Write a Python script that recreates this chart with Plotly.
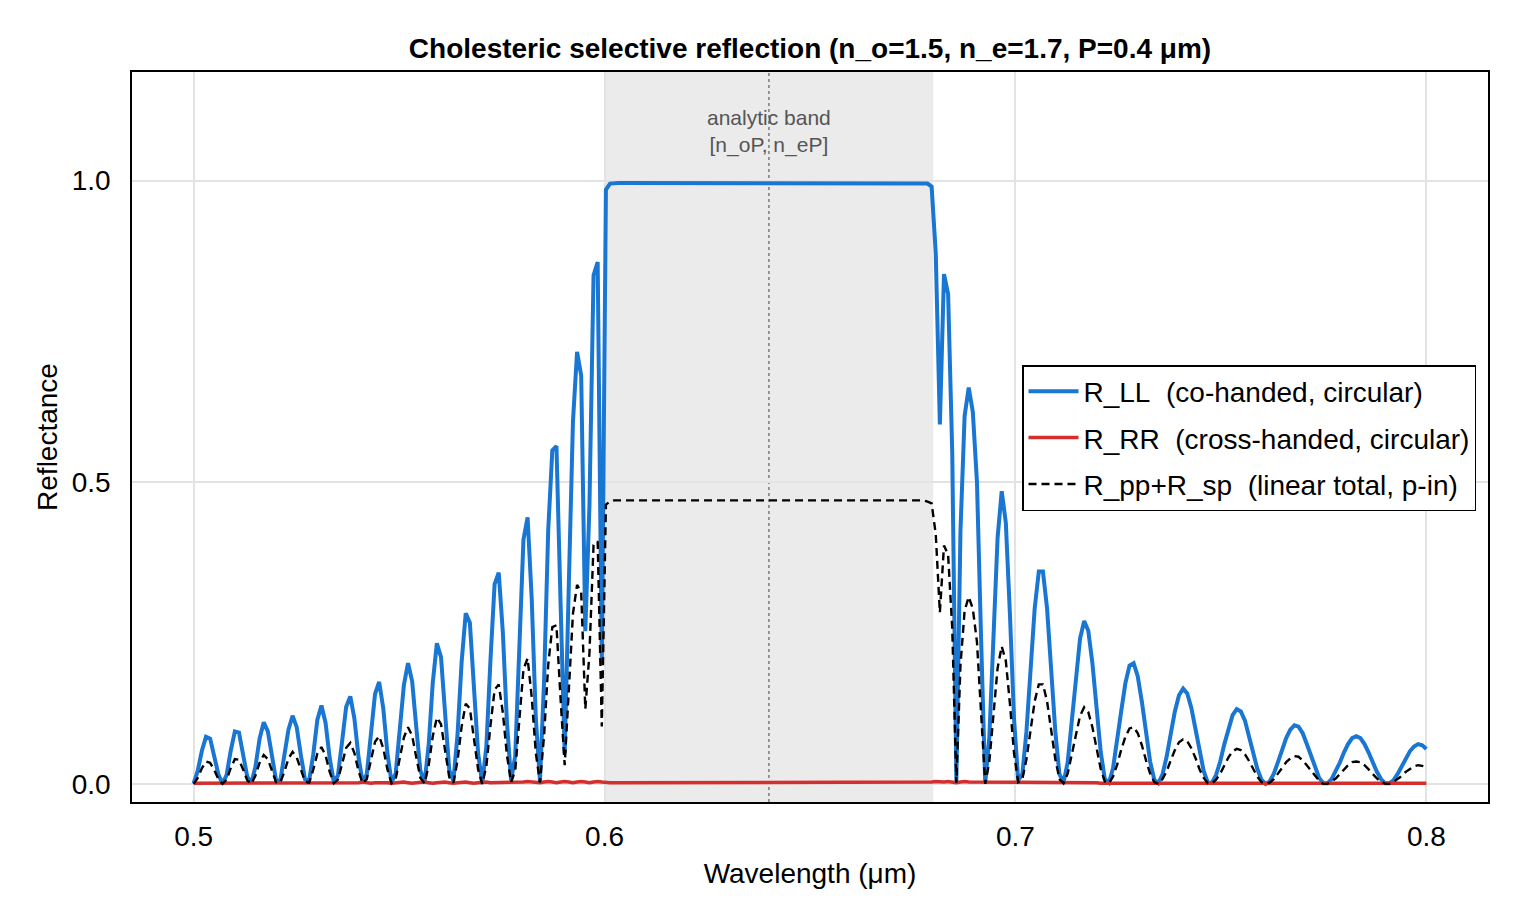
import numpy as np
import plotly.graph_objects as go

# ---------------- data ----------------
WL_START, WL_END, N_SAMPLES = 0.5, 0.8, 300
wavelength_um = np.linspace(WL_START, WL_END, N_SAMPLES)

R_LL = [
    0.001, 0.022, 0.055, 0.078, 0.075, 0.048, 0.016, 0.000, 0.015, 0.055,
    0.087, 0.085, 0.051, 0.012, 0.001, 0.029, 0.075, 0.102, 0.087, 0.043,
    0.006, 0.005, 0.043, 0.090, 0.113, 0.094, 0.048, 0.008, 0.005, 0.048,
    0.106, 0.130, 0.101, 0.043, 0.003, 0.014, 0.070, 0.128, 0.145, 0.108,
    0.044, 0.003, 0.016, 0.081, 0.149, 0.169, 0.125, 0.051, 0.003, 0.017,
    0.085, 0.164, 0.200, 0.170, 0.094, 0.022, 0.002, 0.064, 0.168, 0.233,
    0.210, 0.115, 0.023, 0.005, 0.081, 0.202, 0.283, 0.267, 0.166, 0.051,
    0.000, 0.062, 0.206, 0.331, 0.350, 0.251, 0.101, 0.006, 0.046, 0.225,
    0.405, 0.442, 0.307, 0.108, 0.005, 0.170, 0.420, 0.553, 0.560, 0.300,
    0.051, 0.330, 0.600, 0.716, 0.677, 0.253, 0.460, 0.843, 0.865, 0.200,
    0.985, 0.995, 0.996, 0.996, 0.996, 0.996, 0.996, 0.996, 0.996, 0.996,
    0.996, 0.996, 0.996, 0.996, 0.996, 0.996, 0.996, 0.996, 0.996, 0.996,
    0.996, 0.996, 0.996, 0.996, 0.996, 0.996, 0.996, 0.996, 0.996, 0.996,
    0.996, 0.996, 0.996, 0.996, 0.996, 0.996, 0.996, 0.996, 0.996, 0.996,
    0.996, 0.996, 0.996, 0.996, 0.996, 0.996, 0.996, 0.996, 0.996, 0.996,
    0.996, 0.996, 0.996, 0.996, 0.996, 0.996, 0.996, 0.996, 0.996, 0.996,
    0.996, 0.996, 0.996, 0.996, 0.996, 0.996, 0.996, 0.996, 0.996, 0.996,
    0.996, 0.996, 0.996, 0.996, 0.996, 0.996, 0.996, 0.996, 0.995, 0.990,
    0.880, 0.596, 0.845, 0.812, 0.550, 0.005, 0.420, 0.610, 0.657, 0.616,
    0.500, 0.240, 0.001, 0.078, 0.243, 0.408, 0.485, 0.433, 0.280, 0.107,
    0.006, 0.016, 0.087, 0.191, 0.291, 0.352, 0.352, 0.291, 0.191, 0.087,
    0.016, 0.002, 0.036, 0.102, 0.179, 0.241, 0.270, 0.254, 0.200, 0.125,
    0.054, 0.008, 0.002, 0.026, 0.069, 0.121, 0.167, 0.196, 0.200, 0.178,
    0.136, 0.084, 0.037, 0.007, 0.001, 0.016, 0.045, 0.083, 0.120, 0.147,
    0.158, 0.150, 0.126, 0.091, 0.052, 0.021, 0.002, 0.002, 0.015, 0.037,
    0.066, 0.093, 0.114, 0.124, 0.120, 0.105, 0.080, 0.051, 0.025, 0.007,
    0.000, 0.004, 0.017, 0.036, 0.056, 0.076, 0.090, 0.097, 0.095, 0.084,
    0.066, 0.046, 0.026, 0.010, 0.001, 0.001, 0.008, 0.020, 0.035, 0.052,
    0.066, 0.076, 0.079, 0.076, 0.066, 0.052, 0.035, 0.020, 0.008, 0.001,
    0.001, 0.006, 0.016, 0.028, 0.042, 0.054, 0.062, 0.066, 0.064, 0.058,
]

R_RR = [
    0.001, 0.001, 0.002, 0.002, 0.001, 0.001, 0.002, 0.002, 0.001, 0.001,
    0.002, 0.002, 0.001, 0.001, 0.002, 0.002, 0.002, 0.001, 0.001, 0.002,
    0.002, 0.002, 0.001, 0.001, 0.002, 0.002, 0.002, 0.001, 0.001, 0.002,
    0.002, 0.002, 0.001, 0.001, 0.002, 0.002, 0.002, 0.001, 0.001, 0.002,
    0.002, 0.003, 0.002, 0.001, 0.002, 0.002, 0.003, 0.002, 0.001, 0.002,
    0.002, 0.003, 0.002, 0.001, 0.002, 0.003, 0.003, 0.002, 0.001, 0.002,
    0.003, 0.003, 0.002, 0.001, 0.002, 0.003, 0.003, 0.002, 0.001, 0.002,
    0.003, 0.003, 0.002, 0.002, 0.002, 0.003, 0.003, 0.002, 0.002, 0.002,
    0.003, 0.004, 0.003, 0.002, 0.002, 0.003, 0.004, 0.003, 0.002, 0.003,
    0.004, 0.003, 0.002, 0.003, 0.004, 0.003, 0.002, 0.003, 0.004, 0.003,
    0.002, 0.002, 0.002, 0.002, 0.002, 0.002, 0.002, 0.002, 0.002, 0.002,
    0.002, 0.002, 0.002, 0.002, 0.002, 0.002, 0.002, 0.002, 0.002, 0.002,
    0.002, 0.002, 0.003, 0.003, 0.003, 0.002, 0.002, 0.002, 0.002, 0.002,
    0.002, 0.002, 0.002, 0.003, 0.003, 0.003, 0.002, 0.002, 0.002, 0.002,
    0.002, 0.002, 0.002, 0.002, 0.002, 0.002, 0.002, 0.002, 0.002, 0.002,
    0.002, 0.002, 0.002, 0.002, 0.002, 0.003, 0.003, 0.003, 0.002, 0.002,
    0.002, 0.002, 0.002, 0.002, 0.002, 0.002, 0.002, 0.002, 0.002, 0.002,
    0.002, 0.002, 0.002, 0.002, 0.002, 0.002, 0.002, 0.002, 0.002, 0.003,
    0.004, 0.003, 0.003, 0.004, 0.003, 0.002, 0.003, 0.004, 0.003, 0.003,
    0.003, 0.002, 0.002, 0.002, 0.003, 0.003, 0.003, 0.002, 0.002, 0.002,
    0.002, 0.002, 0.002, 0.003, 0.003, 0.003, 0.002, 0.002, 0.002, 0.002,
    0.002, 0.002, 0.002, 0.002, 0.003, 0.003, 0.002, 0.002, 0.002, 0.002,
    0.001, 0.001, 0.002, 0.002, 0.002, 0.002, 0.002, 0.002, 0.001, 0.001,
    0.001, 0.002, 0.002, 0.002, 0.002, 0.002, 0.002, 0.001, 0.001, 0.001,
    0.001, 0.002, 0.002, 0.002, 0.002, 0.002, 0.001, 0.001, 0.001, 0.001,
    0.001, 0.002, 0.002, 0.002, 0.002, 0.001, 0.001, 0.001, 0.001, 0.001,
    0.002, 0.002, 0.002, 0.001, 0.001, 0.001, 0.001, 0.001, 0.002, 0.002,
    0.002, 0.001, 0.001, 0.001, 0.001, 0.001, 0.002, 0.002, 0.001, 0.001,
    0.001, 0.001, 0.001, 0.002, 0.002, 0.001, 0.001, 0.001, 0.001, 0.001,
    0.001, 0.002, 0.002, 0.001, 0.001, 0.001, 0.001, 0.001, 0.001, 0.001,
]

R_linear_total = [
    0.000, 0.010, 0.026, 0.037, 0.035, 0.023, 0.008, 0.000, 0.007, 0.026,
    0.041, 0.040, 0.024, 0.006, 0.000, 0.014, 0.035, 0.048, 0.041, 0.020,
    0.003, 0.002, 0.020, 0.042, 0.053, 0.044, 0.023, 0.004, 0.002, 0.023,
    0.050, 0.061, 0.047, 0.020, 0.001, 0.007, 0.033, 0.060, 0.068, 0.051,
    0.021, 0.001, 0.008, 0.038, 0.070, 0.079, 0.059, 0.024, 0.001, 0.008,
    0.040, 0.077, 0.094, 0.080, 0.044, 0.010, 0.001, 0.030, 0.079, 0.110,
    0.099, 0.054, 0.011, 0.002, 0.038, 0.095, 0.133, 0.125, 0.078, 0.024,
    0.000, 0.029, 0.097, 0.156, 0.165, 0.118, 0.047, 0.003, 0.022, 0.106,
    0.190, 0.208, 0.144, 0.051, 0.002, 0.080, 0.197, 0.260, 0.263, 0.141,
    0.031, 0.155, 0.282, 0.330, 0.318, 0.124, 0.216, 0.396, 0.402, 0.095,
    0.463, 0.468, 0.470, 0.470, 0.470, 0.470, 0.470, 0.470, 0.470, 0.470,
    0.470, 0.470, 0.470, 0.470, 0.470, 0.470, 0.470, 0.470, 0.470, 0.470,
    0.470, 0.470, 0.470, 0.470, 0.470, 0.470, 0.470, 0.470, 0.470, 0.470,
    0.470, 0.470, 0.470, 0.470, 0.470, 0.470, 0.470, 0.470, 0.470, 0.470,
    0.470, 0.470, 0.470, 0.470, 0.470, 0.470, 0.470, 0.470, 0.470, 0.470,
    0.470, 0.470, 0.470, 0.470, 0.470, 0.470, 0.470, 0.470, 0.470, 0.470,
    0.470, 0.470, 0.470, 0.470, 0.470, 0.470, 0.470, 0.470, 0.470, 0.470,
    0.470, 0.470, 0.470, 0.470, 0.470, 0.470, 0.470, 0.470, 0.468, 0.465,
    0.414, 0.284, 0.395, 0.380, 0.258, 0.002, 0.197, 0.287, 0.310, 0.290,
    0.235, 0.113, 0.000, 0.037, 0.114, 0.192, 0.228, 0.204, 0.132, 0.050,
    0.003, 0.008, 0.041, 0.090, 0.137, 0.165, 0.165, 0.137, 0.090, 0.041,
    0.008, 0.001, 0.017, 0.048, 0.084, 0.113, 0.127, 0.119, 0.094, 0.059,
    0.025, 0.004, 0.001, 0.012, 0.032, 0.057, 0.078, 0.092, 0.094, 0.084,
    0.064, 0.039, 0.017, 0.003, 0.000, 0.008, 0.021, 0.039, 0.056, 0.069,
    0.074, 0.071, 0.059, 0.043, 0.024, 0.010, 0.001, 0.001, 0.007, 0.017,
    0.031, 0.044, 0.054, 0.058, 0.056, 0.049, 0.038, 0.024, 0.012, 0.003,
    0.000, 0.002, 0.008, 0.017, 0.026, 0.036, 0.042, 0.046, 0.045, 0.039,
    0.031, 0.022, 0.012, 0.005, 0.000, 0.000, 0.004, 0.009, 0.016, 0.024,
    0.031, 0.036, 0.037, 0.036, 0.031, 0.024, 0.016, 0.009, 0.004, 0.000,
    0.000, 0.003, 0.008, 0.013, 0.020, 0.025, 0.029, 0.031, 0.030, 0.027,
]

series_names = [
    "R_LL\u00a0 (co-handed, circular)",
    "R_RR\u00a0 (cross-handed, circular)",
    "R_pp+R_sp\u00a0 (linear total, p-in)",
]

band_lo, band_hi = 0.6, 0.68      # n_o*P, n_e*P
band_center = 0.64
band_label = "analytic band<br>[n_oP, n_eP]"

x_tickvals = [0.5, 0.6, 0.7, 0.8]
x_ticktext = ["0.5", "0.6", "0.7", "0.8"]
y_tickvals = [0.0, 0.5, 1.0]
y_ticktext = ["0.0", "0.5", "1.0"]

title_text = "Cholesteric selective reflection (n_o=1.5, n_e=1.7, P=0.4 μm)"

assert len(R_LL) == len(R_RR) == len(R_linear_total) == N_SAMPLES

# ---------------- figure ----------------
FONT = "Liberation Sans, Arial, Helvetica, sans-serif"
BLUE = "#1976D2"
RED = "#D32F2F"

fig = go.Figure()
fig.add_trace(go.Scatter(x=wavelength_um, y=R_LL, mode="lines", name=series_names[0],
                         legendgroup="a", line=dict(color=BLUE, width=4)))
fig.add_trace(go.Scatter(x=wavelength_um, y=R_RR, mode="lines", name=series_names[1],
                         legendgroup="b", line=dict(color=RED, width=3.5)))
fig.add_trace(go.Scatter(x=wavelength_um, y=R_linear_total, mode="lines", name=series_names[2],
                         legendgroup="c", line=dict(color="black", width=2.4, dash="8px,5px")))

fig.add_shape(type="rect", xref="x", yref="paper", x0=band_lo, x1=band_hi, y0=0, y1=1,
              fillcolor="#ebebeb", line=dict(width=0), layer="below")
fig.add_shape(type="line", xref="x", yref="paper", x0=band_center, x1=band_center, y0=0, y1=1,
              line=dict(color="#7a7a7a", width=1.5, dash="dot"), layer="below")

fig.add_annotation(x=band_center, y=1.082, xref="x", yref="y", text=band_label,
                   showarrow=False, font=dict(family=FONT, size=21, color="#555555"),
                   align="center")

fig.update_layout(
    width=1520, height=920,
    margin=dict(l=132, r=32, t=72, b=118),
    paper_bgcolor="white", plot_bgcolor="white",
    font=dict(family=FONT, size=28, color="black"),
    title=dict(text="<b>" + title_text + "</b>", x=0.5, xref="paper",
               y=1 - 48 / 920, yref="container", xanchor="center", yanchor="middle",
               font=dict(family=FONT, size=28, color="black")),
    legend=dict(x=(1476 - 132) / 1356, y=(802 - 365) / 730, xanchor="right", yanchor="top",
                bgcolor="white", bordercolor="black", borderwidth=1.5,
                font=dict(family=FONT, size=28), tracegroupgap=7, itemwidth=50),
    showlegend=True,
)
fig.update_xaxes(range=[0.485, 0.815], tickvals=x_tickvals, ticktext=x_ticktext,
                 showgrid=True, gridcolor="#e3e3e3", gridwidth=1.5, zeroline=False,
                 showline=True, linecolor="black", linewidth=1.5, mirror=True,
                 ticks="", ticklabelstandoff=9, tickfont=dict(size=28),
                 title=dict(text="Wavelength (μm)", standoff=12, font=dict(size=28)),
                 automargin=False)
fig.update_yaxes(range=[-0.03, 1.18], tickvals=y_tickvals, ticktext=y_ticktext,
                 showgrid=True, gridcolor="#e3e3e3", gridwidth=1.5, zeroline=False,
                 showline=True, linecolor="black", linewidth=1.5, mirror=True,
                 ticks="", ticklabelstandoff=14, tickfont=dict(size=28),
                 title=dict(text="Reflectance", standoff=6, font=dict(size=28)),
                 automargin=False)

fig.write_html("out.html")
